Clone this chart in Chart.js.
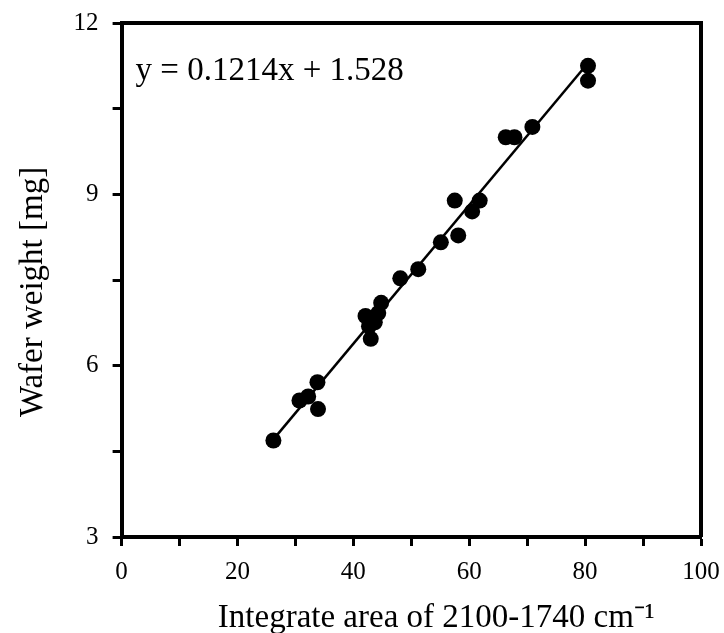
<!DOCTYPE html>
<html>
<head>
<meta charset="utf-8">
<script src="https://cdn.jsdelivr.net/npm/chart.js@4"></script>
<style>
  html, body { margin: 0; padding: 0; background: #fff; }
  #wrap { width: 724px; height: 633px; }
</style>
</head>
<body>
<div id="wrap"><canvas id="wafer"></canvas></div>
<script>
// integrate area (x) and wafer weight in mg (y)
const areaValues = [26.2, 30.7, 32.2, 33.8, 33.9, 42.1, 42.7, 43.0, 43.7, 44.3, 44.8, 48.1, 51.2, 55.1, 57.5, 58.1, 60.5, 61.8, 66.3, 67.8, 70.9, 80.5, 80.5];
const weightValues = [4.69, 5.39, 5.46, 5.71, 5.24, 6.87, 6.69, 6.47, 6.76, 6.92, 7.10, 7.53, 7.69, 8.16, 8.89, 8.28, 8.70, 8.89, 10.0, 10.0, 10.18, 11.25, 10.99];

// linear fit shown on the chart
const slope = 0.1214;
const intercept = 1.528;
const fitLabel = "y = 0.1214x + 1.528";

const xTitle = "Integrate area of 2100-1740 cm\u207B\u00B9";
const yTitle = "Wafer weight [mg]";

const serif = "'Liberation Serif', 'Times New Roman', serif";

const points = areaValues.map((x, i) => ({ x: x, y: weightValues[i] }));
const xMin = Math.min(...areaValues);
const xMax = Math.max(...areaValues);
const fitLine = [
	{ x: xMin, y: slope * xMin + intercept },
	{ x: xMax, y: slope * xMax + intercept },
];

// frame on top/right, equation text, and the two axis titles
// (the scale titles only reserve room; they are drawn here a bit off-centre like the original)
const framePlugin = {
	id: "frame",
	afterDraw(chart) {
		const c = chart.ctx;
		const a = chart.chartArea;
		c.save();
		c.strokeStyle = "#000";
		c.lineWidth = 4;
		c.beginPath();
		c.moveTo(a.left, a.top);
		c.lineTo(a.right, a.top);
		c.lineTo(a.right, a.bottom);
		c.stroke();

		c.fillStyle = "#000";
		c.font = "33px " + serif;
		c.textBaseline = "alphabetic";
		c.textAlign = "left";
		c.fillText(fitLabel, a.left + 14, a.top + 57);

		c.textAlign = "center";
		c.fillText(xTitle, (a.left + a.right) / 2 + 25, 627);

		c.translate(33, (a.top + a.bottom) / 2 + 12);
		c.rotate(-Math.PI / 2);
		c.textBaseline = "middle";
		c.fillText(yTitle, 0, 0);
		c.restore();
	},
};

new Chart(document.getElementById("wafer"), {
	data: {
		datasets: [{
			type: "scatter",
			data: points,
			pointRadius: 8,
			pointBackgroundColor: "#000",
			pointBorderColor: "#000",
			pointBorderWidth: 0,
			order: 1,
		}, {
			type: "line",
			data: fitLine,
			borderColor: "#000",
			borderWidth: 2.5,
			pointRadius: 0,
			fill: false,
			order: 2,
		}],
	},
	options: {
		responsive: true,
		maintainAspectRatio: false,
		animation: false,
		layout: {
			padding: { top: 23, right: 23, left: 14, bottom: 0 },
		},
		plugins: {
			legend: { display: false },
			tooltip: { enabled: false },
		},
		scales: {
			x: {
				type: "linear",
				min: 0,
				max: 100,
				afterFit: (s) => { s.paddingLeft = 0; s.paddingRight = 0; },
				border: { display: true, color: "#000", width: 4 },
				grid: {
					drawOnChartArea: false,
					drawTicks: true,
					tickLength: 9,
					tickWidth: 3,
					tickColor: "#000",
				},
				ticks: {
					stepSize: 10,
					autoSkip: false,
					maxRotation: 0,
					padding: 11,
					color: "#000",
					font: { family: serif, size: 25 },
					callback: (v) => (v % 20 === 0 ? v : ""),
				},
				title: {
					display: true,
					text: xTitle,
					color: "rgba(0,0,0,0)",
					font: { family: serif, size: 33, lineHeight: 1.0 },
					padding: { top: 2, bottom: 0 },
				},
			},
			y: {
				type: "linear",
				min: 3,
				max: 12,
				afterFit: (s) => { s.paddingTop = 0; s.paddingBottom = 0; },
				border: { display: true, color: "#000", width: 4 },
				grid: {
					drawOnChartArea: false,
					drawTicks: true,
					tickLength: 9,
					tickWidth: 3,
					tickColor: "#000",
				},
				ticks: {
					stepSize: 1.5,
					autoSkip: false,
					padding: 14,
					color: "#000",
					font: { family: serif, size: 25 },
					callback: (v) => (v % 3 === 0 ? v : ""),
				},
				title: {
					display: true,
					text: yTitle,
					color: "rgba(0,0,0,0)",
					font: { family: serif, size: 33 },
					padding: { top: 0, bottom: 6 },
				},
			},
		},
	},
	plugins: [framePlugin],
});
</script>
</body>
</html>
